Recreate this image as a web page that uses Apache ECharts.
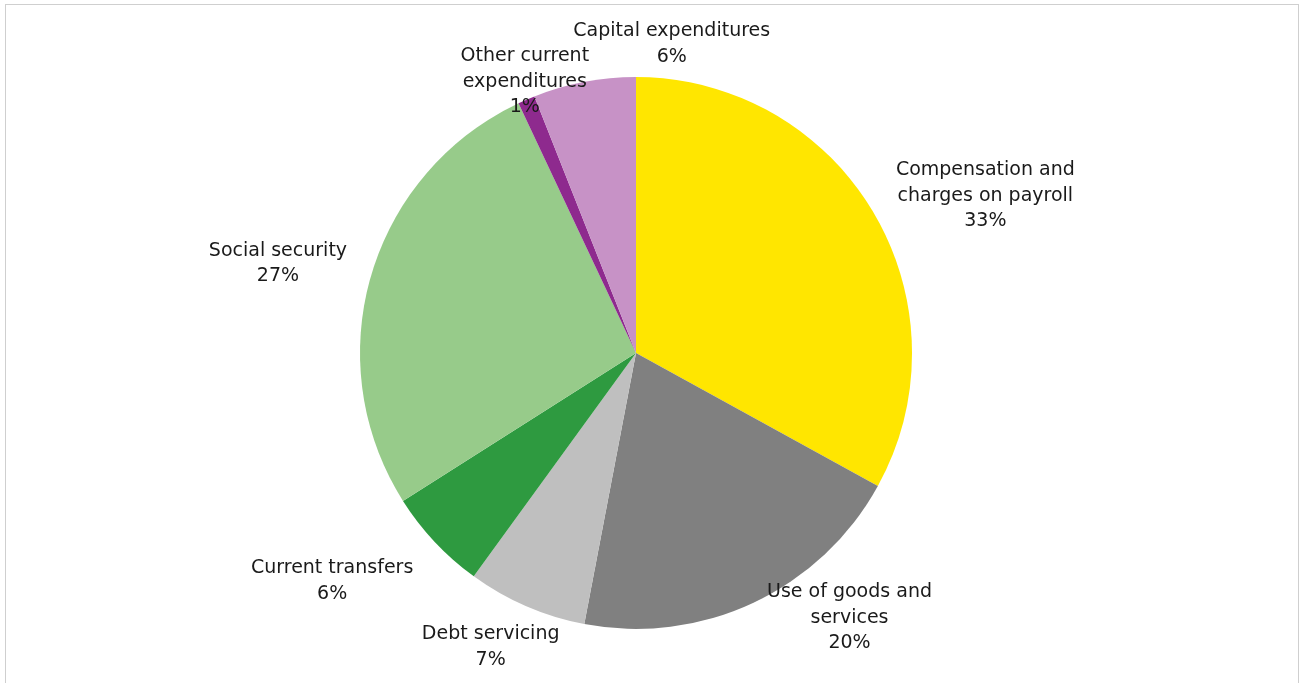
<!DOCTYPE html>
<html>
<head>
<meta charset="utf-8">
<script src="https://cdn.jsdelivr.net/npm/echarts@6/dist/echarts.min.js"></script>
<style>
  html, body { margin: 0; padding: 0; background: #fff; }
  #frame { position: absolute; left: 5px; top: 4px; width: 1294px; height: 690px; border: 1px solid #cfcfcf; box-sizing: border-box; }
  #chart { position: absolute; left: 0; top: 0; width: 1305px; height: 683px; }
</style>
</head>
<body>
<div id="frame"></div>
<div id="chart"></div>
<script>
// Expenditure categories, in clockwise order from 12 o'clock
const categories = [
  'Compensation and\ncharges on payroll',
  'Use of goods and\nservices',
  'Debt servicing',
  'Current transfers',
  'Social security',
  'Other current\nexpenditures',
  'Capital expenditures'
];
// Share of total expenditure, percent
const shares = [33, 20, 7, 6, 27, 1, 6];
const sliceColors = ['#FFE600', '#808080', '#BFBFBF', '#2E9A40', '#97CB8A', '#8E2A8E', '#C792C6'];

// Label anchors around the pie: [angle clockwise from north in degrees, distance from centre in px]
const labelPolar = [[65.8, 383], [141.1, 340], [206.3, 328], [233.1, 380], [284, 369], [337.7, 293], [6.6, 311]];

const CX = 636, CY = 353, R = 276;

const chart = echarts.init(document.getElementById('chart'), null, { renderer: 'canvas' });
chart.setOption({
  backgroundColor: 'transparent',
  animation: false,
  series: [{
    type: 'pie',
    center: [CX, CY],
    radius: R,
    startAngle: 90,
    clockwise: true,
    data: categories.map((name, i) => ({ name, value: shares[i], itemStyle: { color: sliceColors[i] } })),
    itemStyle: { borderWidth: 0 },
    label: {
      show: true,
      position: 'outside',
      formatter: p => p.name + '\n' + Math.round(p.value) + '%',
      fontFamily: 'DejaVu Sans',
      fontSize: 19,
      lineHeight: 25.5,
      color: '#1a1a1a',
      align: 'center'
    },
    labelLine: { show: false },
    labelLayout: params => {
      const [a, d] = labelPolar[params.dataIndex];
      const rad = a * Math.PI / 180;
      return {
        x: CX + d * Math.sin(rad),
        y: CY - d * Math.cos(rad),
        align: 'center',
        verticalAlign: 'middle'
      };
    },
    emphasis: { disabled: true }
  }]
});
</script>
</body>
</html>
